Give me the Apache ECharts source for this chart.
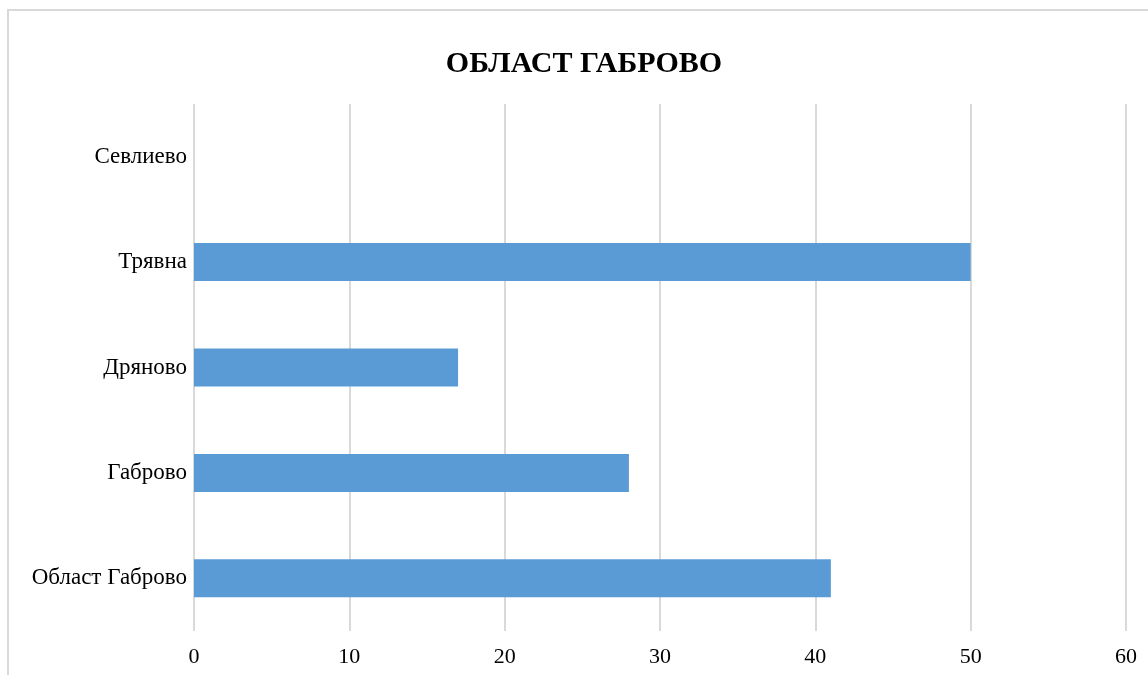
<!DOCTYPE html>
<html>
<head>
<meta charset="utf-8">
<script src="https://cdn.jsdelivr.net/npm/echarts@6/dist/echarts.min.js"></script>
<style>
html,body{margin:0;padding:0;background:#fff;}
#frame{position:absolute;left:7px;top:9px;width:1200px;height:700px;border:2px solid #d9d9d9;box-sizing:border-box;}
#chart{position:absolute;left:0;top:0;width:1148px;height:675px;}
</style>
</head>
<body>
<div id="frame"></div>
<div id="chart"></div>
<script>
const categories = ['Област Габрово', 'Габрово', 'Дряново', 'Трявна', 'Севлиево'];
const values = [41, 28, 17, 50, 0];
const xTicks = { min: 0, max: 60, interval: 10 };
const titleText = 'ОБЛАСТ ГАБРОВО';

const chart = echarts.init(document.getElementById('chart'), null, { renderer: 'canvas' });
chart.setOption({
  animation: false,
  backgroundColor: 'transparent',
  title: {
    text: titleText,
    left: 579,
    top: 44,
    textAlign: 'center',
    textStyle: { fontFamily: 'Liberation Serif', fontWeight: 'bold', fontSize: 30, color: '#000' }
  },
  grid: { left: 194, right: 22, top: 104, bottom: 44, containLabel: false },
  xAxis: {
    type: 'value',
    min: xTicks.min, max: xTicks.max, interval: xTicks.interval,
    axisLine: { show: false },
    axisTick: { show: false },
    axisLabel: { fontFamily: 'Liberation Serif', fontSize: 22, color: '#000', margin: 15 },
    splitLine: { show: true, lineStyle: { color: '#d9d9d9', width: 2 } }
  },
  yAxis: {
    type: 'category',
    data: categories,
    axisLine: { show: false },
    axisTick: { show: false },
    axisLabel: { fontFamily: 'Liberation Serif', fontSize: 23, color: '#000', margin: 7 },
    splitLine: { show: false }
  },
  series: [{
    type: 'bar',
    data: values,
    barWidth: 38,
    itemStyle: { color: '#5b9bd5' }
  }]
});
</script>
</body>
</html>
